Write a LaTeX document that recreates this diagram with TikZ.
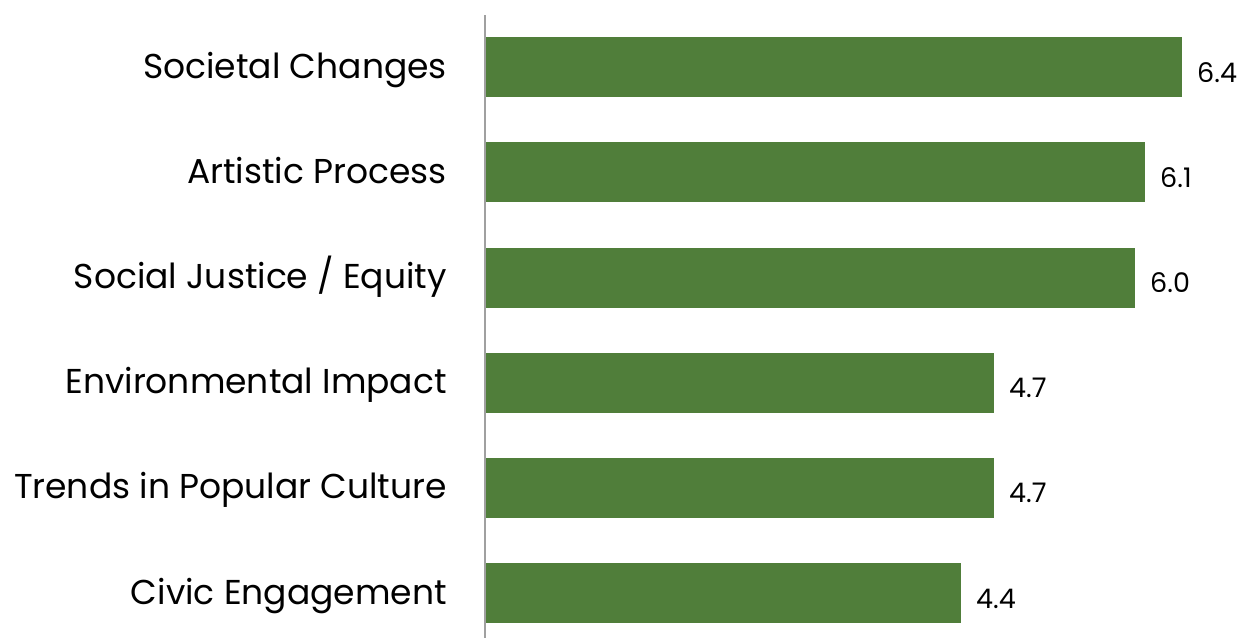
\documentclass[tikz,border=0pt]{standalone}
\usepackage{fontspec}
\setmainfont{Poppins}
\definecolor{bargreen}{HTML}{507E3A}
\definecolor{axisgray}{HTML}{A0A0A0}
\begin{document}
\begin{tikzpicture}[x=1pt,y=-1pt,
  bar/.style={fill=bargreen,draw=none},
  cat/.style={anchor=base east,inner sep=0pt,font=\fontsize{34.5}{40}\selectfont},
  val/.style={anchor=base west,inner sep=0pt,font=\fontsize{27}{32}\selectfont}]
\useasboundingbox (0,0) rectangle (1246,638);
\draw[axisgray,line width=2pt] (485,15) coordinate (atop) -- (485,638) coordinate (abot);
\foreach \i/\xe/\lab/\v in {0/1182/{Societal Changes}/6.4,1/1145/{Artistic Process}/6.1,2/1135/{Social Justice / Equity}/6.0,3/994/{Environmental Impact}/4.7,4/994/{Trends in Popular Culture}/4.7,5/961/{Civic Engagement}/4.4}{
  \pgfmathsetmacro{\yt}{37+105.2*\i}
  \pgfmathsetmacro{\yc}{\yt+30}
  \node[bar,minimum width=\xe-486,minimum height=60,inner sep=0pt,anchor=north west] (b\i) at (486,\yt) {};
  \node[cat] (c\i) at (447,\yc+11) {\lab};
  \node[val] (v\i) at (\xe+15,\yc+15) {\v};
}
\end{tikzpicture}
\end{document}
